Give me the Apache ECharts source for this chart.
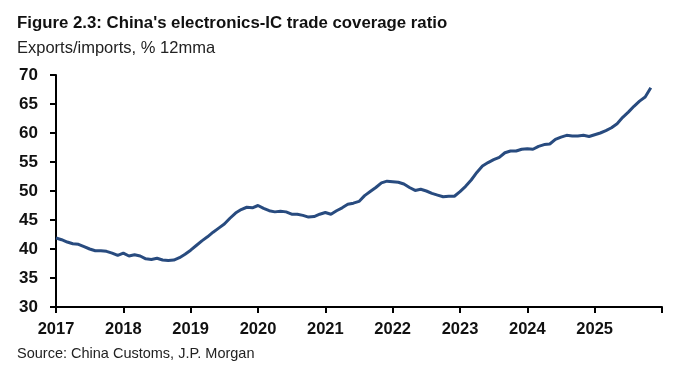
<!DOCTYPE html>
<html>
<head>
<meta charset="utf-8">
<script src="https://cdn.jsdelivr.net/npm/echarts@6/dist/echarts.min.js"></script>
<style>
  html, body { margin: 0; padding: 0; background: #fff; }
  #chart { width: 700px; height: 375px; }
</style>
</head>
<body>
<div id="chart"></div>
<script>
// monthly categories, Jan 2017 .. Jan 2026
var months = [];
for (var y = 2017; y <= 2026; y++) {
    for (var m = 1; m <= 12; m++) {
        if (y === 2026 && m > 1) break;
        months.push(y + '-' + (m < 10 ? '0' + m : m));
    }
}

// exports/imports, % 12mma (Jan 2017 .. Nov 2025)
var ratio = [
    41.9, 41.6, 41.2, 40.9, 40.8, 40.4, 40.0, 39.7, 39.7, 39.6, 39.3, 38.9,
    39.3, 38.8, 39.0, 38.8, 38.3, 38.2, 38.4, 38.1, 38.0, 38.1, 38.5, 39.1,
    39.8, 40.6, 41.4, 42.1, 42.9, 43.6, 44.3, 45.3, 46.2, 46.8, 47.2, 47.1,
    47.5, 47.0, 46.6, 46.4, 46.5, 46.4, 46.0, 46.0, 45.8, 45.5, 45.6, 46.0,
    46.3, 46.0, 46.6, 47.1, 47.7, 47.9, 48.2, 49.2, 49.9, 50.6, 51.4, 51.7,
    51.6, 51.5, 51.2, 50.6, 50.1, 50.3, 50.0, 49.6, 49.3, 49.0, 49.1, 49.1,
    49.9, 50.8, 51.9, 53.2, 54.3, 54.9, 55.4, 55.8, 56.6, 56.9, 56.9, 57.2,
    57.3, 57.2, 57.7, 58.0, 58.1, 58.9, 59.3, 59.6, 59.5, 59.5, 59.6, 59.4,
    59.7, 60.0, 60.4, 60.9, 61.6, 62.7, 63.6, 64.6, 65.5, 66.2, 67.8
];

var titleText = "Figure 2.3: China's electronics-IC trade coverage ratio";
var subText = 'Exports/imports, % 12mma';
var sourceText = 'Source: China Customs, J.P. Morgan';

var labelFont = "'Liberation Sans Narrow', 'Arial Narrow', 'Liberation Sans', Arial, sans-serif";
var bodyFont = "'Liberation Sans', Arial, sans-serif";

var chart = echarts.init(document.getElementById('chart'));
var yearStart = function (idx) { return idx % 12 === 0; };

chart.setOption({
    animation: false,
    backgroundColor: '#fff',
    title: [
        {
            text: titleText, left: 17, top: 15, padding: 0,
            textStyle: { fontFamily: bodyFont, fontSize: 16.8, fontWeight: 'bold', color: '#111' }
        },
        {
            text: subText, left: 17, top: 40, padding: 0,
            textStyle: { fontFamily: bodyFont, fontSize: 16.5, fontWeight: 'normal', color: '#222' }
        },
        {
            text: sourceText, left: 17, top: 346, padding: 0,
            textStyle: { fontFamily: bodyFont, fontSize: 14.5, fontWeight: 'normal', color: '#222' }
        }
    ],
    grid: { left: 56, right: 38, top: 75, bottom: 68, containLabel: false },
    xAxis: {
        type: 'category',
        data: months,
        boundaryGap: false,
        axisLine: { show: true, lineStyle: { color: '#000', width: 2 } },
        axisTick: { show: true, interval: function (i) { return yearStart(i); }, length: 6, lineStyle: { color: '#000', width: 2 } },
        axisLabel: {
            interval: function (i) { return yearStart(i); },
            margin: 14,
            fontFamily: labelFont, fontSize: 16.5, fontWeight: 'bold', color: '#111',
            formatter: function (v) { var y = v.slice(0, 4); return y === '2026' ? '' : y; }
        },
        splitLine: { show: false }
    },
    yAxis: {
        type: 'value',
        min: 30, max: 70, interval: 5,
        axisLine: { show: true, lineStyle: { color: '#000', width: 2 } },
        axisTick: { show: true, length: 6, lineStyle: { color: '#000', width: 2 } },
        axisLabel: { margin: 18, fontFamily: labelFont, fontSize: 17, fontWeight: 'bold', color: '#111' },
        splitLine: { show: false }
    },
    series: [{
        type: 'line',
        data: ratio,
        showSymbol: false,
        smooth: false,
        lineStyle: { color: '#284b7f', width: 3 },
        itemStyle: { color: '#284b7f' }
    }]
});
</script>
</body>
</html>
